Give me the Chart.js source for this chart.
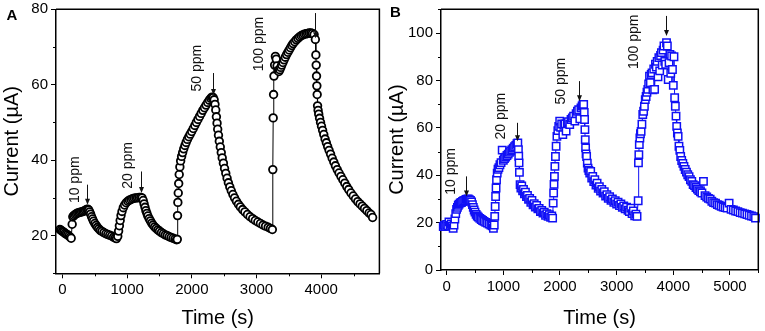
<!DOCTYPE html>
<html>
<head>
<meta charset="utf-8">
<script src="https://cdn.jsdelivr.net/npm/chart.js@4/dist/chart.umd.min.js"></script>
<style>
  html, body { margin: 0; padding: 0; background: #fff; }
  #wrap { position: relative; width: 765px; height: 331px; }
  canvas { position: absolute; top: 0; }
  #chartA { left: 0; }
  #chartB { left: 385px; }
</style>
</head>
<body>
<div id="wrap">
  <canvas id="chartA" width="385" height="331"></canvas>
  <canvas id="chartB" width="380" height="331"></canvas>
</div>
<script>
const FONT = "'Liberation Sans', Arial, Helvetica, sans-serif";

// Panel A: time (s) and current (uA), one line per exposure step
const timeA = [
  -40, -20, 0, 20, 40, 60, 80, 100, 120, 135, 150, 160, 175, 195, 215, 235, 255, 275, 295, 315, 335, 355, 375, 390, 405, 420, 435, 450, 465, 480, 500, 520, 540, 560, 585, 610, 640, 670, 700, 730, 760, 790, 815, 835,
  855, 868, 880, 892, 905, 920, 940, 960, 985, 1010, 1035, 1060, 1085, 1110, 1135, 1160, 1185, 1210, 1230, 1248, 1262, 1276, 1290, 1305, 1320, 1340, 1360, 1380, 1400, 1425, 1450, 1475, 1500, 1530, 1560, 1590, 1620, 1650, 1680, 1710, 1740, 1765,
  1775, 1779, 1784, 1790, 1797, 1805, 1815, 1827, 1842, 1858, 1875, 1893, 1912, 1932, 1953, 1975, 1998, 2022, 2046, 2070, 2095, 2120, 2145, 2170, 2195, 2220, 2245, 2270, 2292, 2312, 2330,
  2345, 2358, 2370, 2380, 2390, 2400, 2412, 2425, 2440, 2455, 2470, 2488, 2506, 2525, 2545, 2565, 2587, 2610, 2635, 2660, 2690, 2720, 2750, 2785, 2820, 2860, 2900, 2940, 2980, 3020, 3060, 3100, 3140, 3180, 3215, 3245,
  3252, 3258, 3264, 3270, 3280, 3292, 3305, 3318, 3332, 3346, 3360, 3375, 3390, 3408, 3426, 3445, 3465, 3485, 3505, 3525, 3545, 3565, 3590, 3615, 3640, 3665, 3690, 3715, 3740, 3765, 3790, 3815, 3840, 3865, 3890, 3910,
  3918, 3923, 3928, 3933, 3938, 3944, 3952, 3962, 3975, 3990, 4005, 4022, 4040, 4060, 4080, 4100, 4122, 4145, 4170, 4195, 4220, 4248, 4276, 4305, 4335, 4365, 4395, 4425, 4460, 4495, 4530, 4565, 4600, 4635, 4670, 4705, 4740, 4770, 4795
];
const currentA = [
  21.6, 21.4, 21.1, 20.9, 20.6, 20.4, 20.2, 19.9, 19.6, 19.3, 23.0, 25.0, 25.3, 25.6, 25.8, 26.0, 26.1, 26.2, 26.3, 26.4, 26.5, 26.7, 26.9, 27.0, 26.8, 26.3, 25.7, 25.0, 24.4, 23.8, 23.2, 22.7, 22.2, 21.8, 21.4, 21.1, 20.8, 20.5, 20.3, 20.1, 19.9, 19.6, 19.4, 19.2,
  19.8, 21.2, 22.6, 24.0, 25.3, 26.4, 27.4, 28.1, 28.7, 29.1, 29.4, 29.6, 29.8, 29.9, 30.0, 30.0, 30.1, 30.1, 30.0, 29.3, 28.4, 27.5, 26.6, 25.9, 25.2, 24.5, 23.9, 23.3, 22.8, 22.3, 21.9, 21.5, 21.2, 20.8, 20.5, 20.2, 20.0, 19.7, 19.5, 19.3, 19.1, 18.9,
  19.0, 25.3, 28.8, 31.3, 33.8, 36.2, 38.2, 39.8, 41.0, 42.0, 43.0, 43.9, 44.7, 45.5, 46.2, 46.9, 47.6, 48.4, 49.2, 50.0, 50.8, 51.6, 52.4, 53.2, 53.9, 54.6, 55.3, 55.9, 56.4, 56.7, 56.6,
  56.0, 54.8, 53.3, 51.5, 49.8, 48.2, 46.6, 45.0, 43.5, 42.0, 40.6, 39.2, 37.8, 36.5, 35.2, 34.0, 32.9, 31.9, 30.9, 30.0, 29.1, 28.3, 27.6, 26.9, 26.3, 25.6, 25.0, 24.5, 24.0, 23.6, 23.2, 22.8, 22.5, 22.2, 21.9, 21.6,
  37.5, 51.2, 57.4, 62.3, 65.2, 67.5, 66.8, 65.0, 63.8, 63.5, 64.0, 64.6, 65.2, 65.9, 66.6, 67.3, 68.0, 68.6, 69.2, 69.8, 70.4, 70.9, 71.4, 71.9, 72.3, 72.7, 73.0, 73.2, 73.4, 73.5, 73.6, 73.7, 73.7, 73.6, 73.3, 72.0,
  67.9, 65.2, 62.3, 59.7, 57.4, 54.4, 53.2, 52.2, 51.1, 50.0, 49.0, 47.9, 46.8, 45.6, 44.6, 43.6, 42.6, 41.6, 40.5, 39.5, 38.5, 37.5, 36.6, 35.7, 34.8, 33.9, 33.0, 32.2, 31.3, 30.5, 29.7, 29.0, 28.4, 27.8, 27.2, 26.6, 26.0, 25.6, 24.8
];

// Panel B
const timeB = [
  -60, -40, -20, 0, 20, 40, 60, 80, 100, 115, 130, 145, 160, 175, 190, 205, 220, 240, 260, 280, 300, 320, 340, 360, 380, 400, 420, 440, 455, 470, 485, 500, 520, 540, 560, 585, 610, 635, 660, 690, 720, 750, 780, 805, 825,
  840, 848, 856, 864, 872, 880, 892, 906, 922, 940, 960, 980, 1000, 1020, 1042, 1064, 1086, 1108, 1130, 1152, 1175, 1198, 1220, 1240, 1256, 1266, 1272, 1278, 1284, 1296, 1310, 1325, 1340, 1356, 1372, 1390, 1408, 1426, 1445, 1465, 1485, 1505, 1525, 1545, 1565, 1588, 1610, 1632, 1655, 1678, 1700, 1722, 1745, 1768, 1790, 1812, 1835, 1855, 1870,
  1880, 1888, 1895, 1902, 1910, 1920, 1932, 1946, 1962, 1978, 1995, 2012, 2030, 2050, 2068, 2088, 2108, 2128, 2150, 2172, 2195, 2218, 2240, 2262, 2285, 2308, 2330, 2350, 2370, 2390, 2405, 2418,
  2428, 2434, 2440, 2446, 2452, 2460, 2470, 2482, 2495, 2510, 2525, 2542, 2560, 2578, 2596, 2615, 2635, 2655, 2675, 2695, 2716, 2738, 2760, 2782, 2805, 2828, 2852, 2876, 2900, 2925, 2950, 2975, 3000, 3025, 3050, 3075, 3100, 3125, 3150, 3175, 3200, 3225, 3250, 3272, 3295, 3318, 3340, 3360,
  3380, 3385, 3392, 3400, 3410, 3420, 3432, 3446, 3461, 3476, 3490, 3505, 3520, 3535, 3550, 3565, 3580, 3595, 3610, 3625, 3640, 3655, 3670, 3685, 3700, 3715, 3730, 3745, 3760, 3775, 3790, 3805, 3820, 3835, 3850, 3865, 3880, 3895, 3910, 3925, 3940, 3955, 3970, 3985, 4000, 4012,
  4024, 4036, 4048, 4060, 4072, 4085, 4100, 4115, 4130, 4148, 4168, 4188, 4210, 4232, 4255, 4278, 4302, 4326, 4350, 4375, 4400, 4425, 4450, 4478, 4505, 4532, 4560, 4590, 4620, 4650, 4680, 4712, 4745, 4778, 4810, 4845, 4880, 4915, 4950, 4985, 5020, 5060, 5100, 5140, 5180, 5220, 5260, 5300, 5340, 5380, 5420, 5450
];
const currentB = [
  18.3, 18.9, 18.4, 19.2, 18.6, 20.3, 18.8, 19.4, 18.5, 17.6, 19.0, 21.5, 23.8, 25.6, 26.4, 27.3, 27.8, 28.3, 28.5, 28.9, 29.2, 29.4, 29.8, 29.9, 30.0, 29.7, 29.4, 28.7, 27.6, 26.4, 25.3, 24.4, 23.5, 22.8, 22.3, 21.8, 21.3, 20.9, 20.5, 20.1, 19.8, 19.4, 19.0, 18.6, 17.6,
  19.0, 22.6, 26.8, 31.0, 34.6, 38.1, 40.9, 42.5, 43.2, 44.4, 45.3, 50.6, 46.3, 47.0, 47.6, 48.3, 48.9, 49.6, 50.2, 50.8, 51.4, 52.0, 52.6, 53.3, 53.6, 50.8, 48.0, 45.2, 41.2, 36.0, 34.6, 35.5, 33.4, 34.0, 32.1, 32.8, 31.0, 31.5, 29.8, 30.2, 28.6, 29.4, 27.5, 28.0, 26.5, 27.2, 25.8, 26.0, 24.6, 25.1, 24.0, 24.4, 23.1, 23.8, 22.6, 23.3, 22.2, 22.8, 21.9,
  28.2, 32.5, 36.1, 39.5, 43.7, 47.9, 52.2, 56.4, 58.8, 60.6, 62.8, 60.2, 61.6, 57.1, 61.0, 61.6, 58.6, 62.1, 62.6, 61.4, 63.5, 64.2, 64.9, 62.8, 66.0, 67.0, 67.6, 63.8, 68.4, 69.2, 69.8, 69.9,
  66.5, 63.5, 59.2, 55.0, 51.5, 49.0, 47.9, 45.1, 43.0, 42.0, 40.9, 41.6, 38.8, 39.5, 37.3, 38.1, 35.8, 36.6, 34.5, 35.2, 33.3, 34.0, 32.5, 33.0, 31.2, 31.8, 30.2, 30.9, 29.4, 30.0, 28.6, 29.3, 27.8, 28.6, 27.2, 27.9, 26.4, 27.0, 25.8, 26.5, 25.2, 24.6, 26.1, 23.8, 24.9, 22.9, 23.6, 22.6,
  29.2, 45.2, 48.7, 52.9, 55.7, 57.5, 58.5, 61.5, 65.6, 67.0, 69.1, 71.9, 73.2, 75.0, 76.2, 78.5, 81.8, 79.0, 82.5, 83.2, 76.0, 84.8, 76.2, 86.8, 85.6, 88.0, 81.5, 89.6, 84.0, 90.5, 91.7, 86.5, 92.8, 94.5, 88.0, 86.8, 95.9, 94.5, 80.4, 87.5, 91.0, 83.0, 90.3, 84.6, 77.9, 90.0,
  72.7, 69.1, 64.9, 60.6, 57.8, 56.4, 52.2, 50.5, 47.9, 46.2, 45.0, 43.7, 42.4, 41.3, 40.2, 39.4, 38.1, 37.4, 36.0, 35.6, 34.8, 34.1, 33.5, 33.0, 32.5, 37.4, 31.4, 30.8, 30.2, 29.9, 29.0, 28.4, 28.2, 27.6, 27.3, 26.9, 26.6, 26.3, 26.1, 28.2, 25.6, 25.3, 24.9, 24.6, 24.2, 24.0, 23.7, 23.4, 23.1, 22.8, 22.5, 21.9
];

// tick values (minor ones get no label)
const xTicksA = [0, 500, 1000, 1500, 2000, 2500, 3000, 3500, 4000, 4500];
const yTicksA = [10, 20, 30, 40, 50, 60, 70, 80];
const xTicksB = [0, 500, 1000, 1500, 2000, 2500, 3000, 3500, 4000, 4500, 5000, 5500];
const yTicksB = [0, 10, 20, 30, 40, 50, 60, 70, 80, 90, 100, 110];

// gas concentration notes: text centre and arrow, in data units
const notesA = [
  { label: '10 ppm', x: 189, y: 34.8, arrowX: 384, from: 33.5, to: 28.2 },
  { label: '20 ppm', x: 1021, y: 38.6, arrowX: 1213, from: 37.0, to: 31.3 },
  { label: '50 ppm', x: 2081, y: 64.4, arrowX: 2322, from: 63.1, to: 57.3 },
  { label: '100 ppm', x: 3041, y: 70.8, arrowX: 3899, from: 79.0, to: 72.3 }
];
const notesB = [
  { label: '10 ppm', x: 72, y: 41.6, arrowX: 349, from: 39.5, to: 31.0 },
  { label: '20 ppm', x: 960, y: 64.9, arrowX: 1250, from: 62.1, to: 54.3 },
  { label: '50 ppm', x: 2021, y: 79.7, arrowX: 2339, from: 79.7, to: 71.2 },
  { label: '100 ppm', x: 3300, y: 96.3, arrowX: 3874, from: 107.2, to: 98.7 }
];

Chart.defaults.font.family = FONT;
Chart.defaults.color = '#000';

// frame, minor ticks, ppm notes and panel letter
const extras = {
  id: 'extras',
  afterDraw(chart, args, opts) {
    const { ctx, chartArea: a } = chart;
    const x = chart.scales.x, y = chart.scales.y;
    ctx.save();
    ctx.strokeStyle = '#000';
    ctx.lineWidth = 1.5;
    ctx.beginPath();
    ctx.moveTo(a.left, a.top);
    ctx.lineTo(a.right, a.top);
    ctx.lineTo(a.right, a.bottom);
    ctx.stroke();

    ctx.lineWidth = 1;
    ctx.beginPath();
    x.ticks.forEach(t => {
      if (t.value % 1000 !== 0) {
        const px = Math.round(x.getPixelForValue(t.value)) + 0.5;
        ctx.moveTo(px, a.bottom);
        ctx.lineTo(px, a.bottom + 3);
      }
    });
    y.ticks.forEach(t => {
      if (t.value % 20 !== 0) {
        const py = Math.round(y.getPixelForValue(t.value)) + 0.5;
        ctx.moveTo(a.left, py);
        ctx.lineTo(a.left - 3, py);
      }
    });
    ctx.stroke();

    ctx.fillStyle = '#111';
    ctx.strokeStyle = '#111';
    ctx.font = '14px ' + FONT;
    ctx.textAlign = 'center';
    ctx.textBaseline = 'middle';
    opts.notes.forEach(n => {
      ctx.save();
      ctx.translate(x.getPixelForValue(n.x), y.getPixelForValue(n.y));
      ctx.rotate(-Math.PI / 2);
      ctx.fillText(n.label, 0, 0);
      ctx.restore();
      const ax = Math.round(x.getPixelForValue(n.arrowX)) + 0.5;
      const y1 = y.getPixelForValue(n.from), y2 = y.getPixelForValue(n.to);
      ctx.beginPath();
      ctx.moveTo(ax, y1);
      ctx.lineTo(ax, y2 - 5);
      ctx.stroke();
      ctx.beginPath();
      ctx.moveTo(ax - 2.5, y2 - 6);
      ctx.lineTo(ax + 2.5, y2 - 6);
      ctx.lineTo(ax, y2);
      ctx.closePath();
      ctx.fill();
    });

    ctx.fillStyle = '#000';
    ctx.font = 'bold 15px ' + FONT;
    ctx.textAlign = 'left';
    ctx.textBaseline = 'alphabetic';
    ctx.fillText(opts.letter, opts.letterX, opts.letterY);
    ctx.restore();
  }
};

function buildPanel(id, times, values, cfg) {
  const points = times.map((t, i) => ({ x: t, y: values[i] }));
  return new Chart(document.getElementById(id), {
    type: 'line',
    data: {
      datasets: [{
        data: points,
        borderColor: cfg.color,
        borderWidth: 1,
        tension: 0,
        pointStyle: cfg.shape,
        pointRadius: cfg.radius,
        pointHoverRadius: cfg.radius,
        pointBorderWidth: cfg.pointBorder,
        pointBorderColor: cfg.color,
        pointBackgroundColor: '#fff',
        clip: false
      }]
    },
    options: {
      responsive: false,
      animation: false,
      events: [],
      layout: { padding: { top: 9.3, right: 3.3, left: 0, bottom: 0 } },
      plugins: {
        legend: { display: false },
        tooltip: { enabled: false },
        extras: { notes: cfg.notes, letter: cfg.letter, letterX: cfg.letterX, letterY: cfg.letterY }
      },
      scales: {
        x: {
          type: 'linear',
          min: cfg.xMin,
          max: cfg.xMax,
          afterBuildTicks: s => { s.ticks = cfg.xTicks.map(v => ({ value: v })); },
          afterFit: s => { s.height = cfg.xHeight; s.paddingLeft = 0; s.paddingRight = 0; },
          ticks: {
            autoSkip: false,
            maxRotation: 0,
            padding: 3,
            font: { size: 15 },
            color: '#000',
            callback: v => (v % 1000 === 0 ? String(v) : '')
          },
          grid: {
            drawOnChartArea: false,
            tickLength: 5,
            tickWidth: 1,
            tickColor: c => (c.tick && c.tick.value % 1000 === 0 ? '#000' : 'rgba(0,0,0,0)')
          },
          border: { color: '#000', width: 1.5 },
          title: { display: true, text: 'Time (s)', font: { size: 20 }, color: '#000', padding: { top: 0, bottom: 1 } }
        },
        y: {
          min: cfg.yMin,
          max: cfg.yMax,
          afterBuildTicks: s => { s.ticks = cfg.yTicks.map(v => ({ value: v })); },
          afterFit: s => { s.width = 56; s.paddingTop = 0; s.paddingBottom = 0; },
          ticks: {
            autoSkip: false,
            padding: 3,
            font: { size: 15 },
            color: '#000',
            callback: v => (v % 20 === 0 ? String(v) : '')
          },
          grid: {
            drawOnChartArea: false,
            tickLength: 5,
            tickWidth: 1,
            tickColor: c => (c.tick && c.tick.value % 20 === 0 ? '#000' : 'rgba(0,0,0,0)')
          },
          border: { color: '#000', width: 1.5 },
          title: { display: true, text: 'Current (\u00b5A)', font: { size: 20 }, color: '#000', padding: { top: 0, bottom: 0 } }
        }
      }
    },
    plugins: [extras]
  });
}

buildPanel('chartA', timeA, currentA, {
  color: '#000', shape: 'circle', radius: 3.8, pointBorder: 1.8,
  xMin: -100, xMax: 4900, yMin: 10, yMax: 80, xTicks: xTicksA, yTicks: yTicksA, xHeight: 57.7,
  notes: notesA, letter: 'A', letterX: 6.5, letterY: 19.5
});

buildPanel('chartB', timeB, currentB, {
  color: '#1010f5', shape: 'rect', radius: 5.2, pointBorder: 1.5,
  xMin: -100, xMax: 5500, yMin: 0, yMax: 110, xTicks: xTicksB, yTicks: yTicksB, xHeight: 61,
  notes: notesB, letter: 'B', letterX: 5, letterY: 16.5
});
</script>
</body>
</html>
